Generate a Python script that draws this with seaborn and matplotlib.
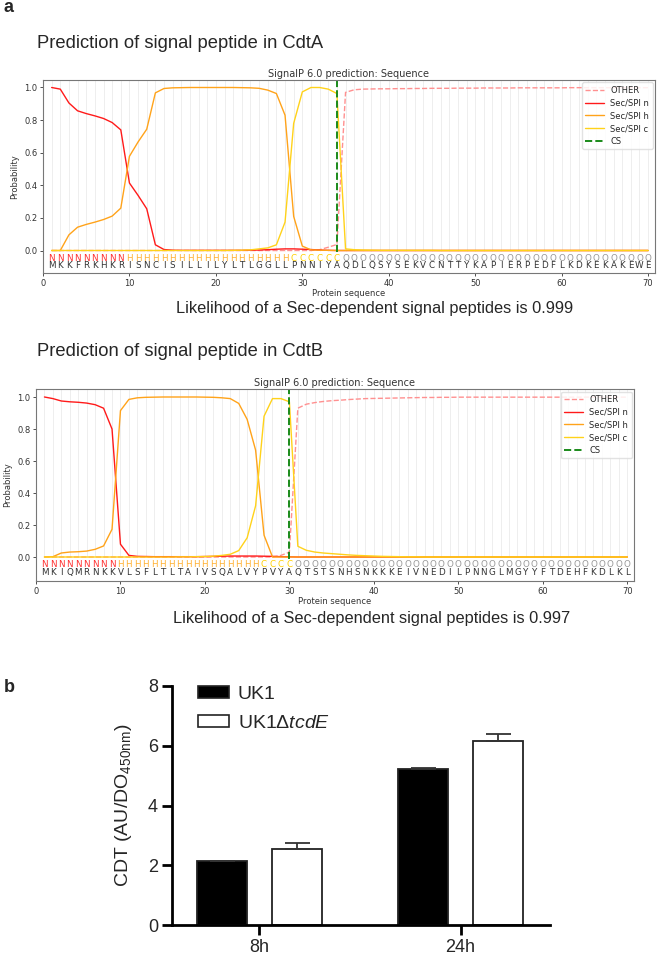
import numpy as np
import pandas as pd
import seaborn as sns
import matplotlib.pyplot as plt
import matplotlib.patches as mpatches

# ---- panel a: SignalP 6.0 output, CdtA and CdtB (positions 1..70)
cdta_seq = "MKKFRKHKRISNCISILLILYLTLGGLLPNNIYAQDLQSYSEKVCNTTYKAPIERPEDFLKDKEKAKEWE"
cdta_lab = "NNNNNNNNNHHHHHHHHHHHHHHHHHHHCCCCCCOOOOOOOOOOOOOOOOOOOOOOOOOOOOOOOOOOOO"
cdta_cs = 34
cdta_likelihood = "0.999"
cdta_other = [0, 0, 0, 0, 0, 0, 0, 0, 0, 0,
              0, 0, 0, 0, 0, 0, 0, 0, 0, 0,
              0, 0, 0, 0, 0, 0, 0, 0, 0, 0,
              0, 0.005, 0.02, 0.037, 0.97, 0.986, 0.99, 0.991, 0.992, 0.992,
              0.993, 0.993, 0.994, 0.994, 0.995, 0.995, 0.995, 0.996, 0.996, 0.996,
              0.997, 0.997, 0.997, 0.997, 0.998, 0.998, 0.998, 0.998, 0.998, 0.998,
              0.999, 0.999, 0.999, 0.999, 0.999, 0.999, 0.999, 0.999, 0.999, 0.999]
cdta_n = [1.0, 0.99, 0.905, 0.857, 0.84, 0.826, 0.81, 0.785, 0.74, 0.414,
          0.338, 0.256, 0.035, 0.006, 0.002, 0.001, 0.001, 0.001, 0.001, 0.001,
          0.001, 0.001, 0.001, 0.002, 0.003, 0.005, 0.008, 0.01, 0.01, 0.008,
          0.006, 0.003, 0.001, 0, 0, 0, 0, 0, 0, 0,
          0, 0, 0, 0, 0, 0, 0, 0, 0, 0,
          0, 0, 0, 0, 0, 0, 0, 0, 0, 0,
          0, 0, 0, 0, 0, 0, 0, 0, 0, 0]
cdta_h = [0, 0, 0.096, 0.143, 0.16, 0.174, 0.19, 0.211, 0.26, 0.578,
          0.666, 0.744, 0.967, 0.994, 0.998, 0.999, 1.0, 1.0, 1.0, 1.0,
          1.0, 1.0, 0.999, 0.998, 0.995, 0.984, 0.963, 0.83, 0.209, 0.027,
          0.004, 0.002, 0.001, 0, 0, 0, 0, 0, 0, 0,
          0, 0, 0, 0, 0, 0, 0, 0, 0, 0,
          0, 0, 0, 0, 0, 0, 0, 0, 0, 0,
          0, 0, 0, 0, 0, 0, 0, 0, 0, 0]
cdta_c = [0, 0, 0, 0, 0, 0, 0, 0, 0, 0,
          0, 0, 0, 0, 0, 0, 0, 0, 0, 0,
          0, 0.001, 0.002, 0.004, 0.01, 0.016, 0.035, 0.174, 0.78, 0.973,
          1.0, 1.0, 0.99, 0.963, 0.01, 0.005, 0.003, 0.002, 0.001, 0.001,
          0.001, 0.001, 0.001, 0.001, 0.001, 0, 0, 0, 0, 0,
          0, 0, 0, 0, 0, 0, 0, 0, 0, 0,
          0, 0, 0, 0, 0, 0, 0, 0, 0, 0]

cdtb_seq = "MKIQMRNKKVLSFLTLTAIVSQALVYPVYAQTSTSNHSNKKKEIVNEDILPNNGLMGYYFTDEHFKDLKL"
cdtb_lab = "NNNNNNNNNHHHHHHHHHHHHHHHHHCCCCOOOOOOOOOOOOOOOOOOOOOOOOOOOOOOOOOOOOOOOO"
cdtb_cs = 30
cdtb_likelihood = "0.997"
cdtb_other = [0, 0, 0, 0, 0, 0, 0, 0, 0, 0,
              0, 0, 0, 0, 0, 0, 0, 0, 0, 0,
              0, 0, 0, 0, 0, 0, 0, 0, 0.01, 0.03,
              0.93, 0.955, 0.965, 0.972, 0.977, 0.98, 0.984, 0.987, 0.99, 0.991,
              0.992, 0.993, 0.994, 0.995, 0.996, 0.997, 0.997, 0.998, 0.998, 0.999,
              0.999, 0.999, 0.999, 0.999, 0.999, 0.999, 0.999, 0.999, 0.999, 0.999,
              0.999, 0.999, 0.999, 0.999, 0.999, 0.999, 0.999, 0.999, 0.999, 0.999]
cdtb_n = [1.0, 0.99, 0.975, 0.97, 0.967, 0.962, 0.952, 0.93, 0.80, 0.08,
          0.01, 0.004, 0.003, 0.002, 0.002, 0.002, 0.002, 0.002, 0.002, 0.003,
          0.004, 0.005, 0.006, 0.006, 0.006, 0.006, 0.005, 0.004, 0.002, 0.001,
          0, 0, 0, 0, 0, 0, 0, 0, 0, 0,
          0, 0, 0, 0, 0, 0, 0, 0, 0, 0,
          0, 0, 0, 0, 0, 0, 0, 0, 0, 0,
          0, 0, 0, 0, 0, 0, 0, 0, 0, 0]
cdtb_h = [0, 0.002, 0.025, 0.031, 0.033, 0.037, 0.048, 0.069, 0.173, 0.915,
          0.985, 0.995, 0.998, 0.999, 1.0, 1.0, 1.0, 1.0, 1.0, 0.999,
          0.998, 0.995, 0.99, 0.96, 0.86, 0.668, 0.136, 0, 0, 0,
          0, 0, 0, 0, 0, 0, 0, 0, 0, 0,
          0, 0, 0, 0, 0, 0, 0, 0, 0, 0,
          0, 0, 0, 0, 0, 0, 0, 0, 0, 0,
          0, 0, 0, 0, 0, 0, 0, 0, 0, 0]
cdtb_c = [0, 0, 0, 0, 0, 0, 0, 0, 0, 0,
          0, 0, 0, 0, 0, 0, 0.001, 0.001, 0.002, 0.003,
          0.005, 0.01, 0.017, 0.04, 0.12, 0.32, 0.88, 0.99, 0.99, 0.97,
          0.067, 0.042, 0.031, 0.025, 0.021, 0.017, 0.013, 0.01, 0.008, 0.006,
          0.004, 0.003, 0.002, 0.001, 0.001, 0, 0, 0, 0, 0,
          0, 0, 0, 0, 0, 0, 0, 0, 0, 0,
          0, 0, 0, 0, 0, 0, 0, 0, 0, 0]

# ---- panel b: CDT production
times = ['8h', '24h']
uk1_cdt = [2.15, 5.21]
uk1_err = [0.0, 0.03]
tcde_cdt = [2.54, 6.17]
tcde_err = [0.22, 0.21]

sns.set_theme(style="white")
plt.rcParams['font.family'] = ['DejaVu Sans']
plt.rcParams['mathtext.fontset'] = 'custom'
plt.rcParams['mathtext.default'] = 'regular'
plt.rcParams['mathtext.rm'] = 'Liberation Sans'
plt.rcParams['mathtext.it'] = 'Liberation Sans:italic'
ARIAL = ['Liberation Sans', 'DejaVu Sans']

label_colors = {'N': '#ff3030', 'H': '#ffb030', 'C': '#ffd000', 'O': '#999999'}


def signalp_axes(ax, seq, lab, other, n, h, c, cs, ylim, row_y):
    pos = np.arange(1, len(seq) + 1)
    ax.vlines(pos, 0, ylim[1], color='#ebebeb', lw=0.6, zorder=0)
    sns.lineplot(x=pos, y=other, color='#ff9090', linestyle='--', lw=1.0, label='OTHER', ax=ax)
    sns.lineplot(x=pos, y=n, color='#ff1a1a', lw=1.0, label='Sec/SPI n', ax=ax)
    sns.lineplot(x=pos, y=h, color='#ffa31a', lw=1.0, label='Sec/SPI h', ax=ax)
    sns.lineplot(x=pos, y=c, color='#ffd21a', lw=1.0, label='Sec/SPI c', ax=ax)
    y0 = (0 - ylim[0]) / (ylim[1] - ylim[0])
    ax.axvline(cs, ymin=y0 - 0.01, ymax=1, color='#1a8a1a', ls='--', lw=1.4, label='CS')
    for p, l, aa in zip(pos, lab, seq):
        ax.text(p, row_y[0], l, ha='center', va='center', fontsize=6.3, color=label_colors[l])
        ax.text(p, row_y[1], aa, ha='center', va='center', fontsize=6.3, color='#333333')
    ax.set_xlim(0, 70.8)
    ax.set_ylim(*ylim)
    ax.set_xticks(range(0, 71, 10))
    ax.set_yticks([0, 0.2, 0.4, 0.6, 0.8, 1.0])
    ax.set_yticklabels(['0.0', '0.2', '0.4', '0.6', '0.8', '1.0'])
    ax.tick_params(labelsize=6, length=2.5, width=0.6, pad=1.5, colors='#333333', left=True, bottom=True)
    for s in ax.spines.values():
        s.set_color('#777777')
        s.set_linewidth(0.8)
    ax.set_title('SignalP 6.0 prediction: Sequence', fontsize=7, pad=2.5, color='#333333')
    ax.set_xlabel('Protein sequence', fontsize=6, labelpad=1, color='#333333')
    ax.set_ylabel('Probability', fontsize=6, labelpad=4, color='#333333')
    ax.legend(loc='upper right', fontsize=6, framealpha=0.85, borderaxespad=0.3,
              handlelength=2.2, labelspacing=0.45, edgecolor='#dddddd')


fig = plt.figure(figsize=(6.58, 9.55), dpi=100)
H = 955.0
W = 658.0

ax_a = fig.add_axes([43 / W, 1 - 273 / H, 612 / W, 193 / H])
signalp_axes(ax_a, cdta_seq, cdta_lab, cdta_other, cdta_n, cdta_h, cdta_c, cdta_cs,
             (-0.138, 1.046), (-0.048, -0.092))
ax_b = fig.add_axes([36 / W, 1 - 581 / H, 598 / W, 192 / H])
signalp_axes(ax_b, cdtb_seq, cdtb_lab, cdtb_other, cdtb_n, cdtb_h, cdtb_c, cdtb_cs,
             (-0.15, 1.05), (-0.044, -0.096))

fig.text(3 / W, 1 - 8 / H, 'a', fontsize=13, weight='bold', va='center', family=ARIAL)
fig.text(37 / W, 1 - 43 / H, 'Prediction of signal peptide in CdtA', fontsize=13.2, va='center', family=ARIAL)
fig.text(176 / W, 1 - 308 / H, 'Likelihood of a Sec-dependent signal peptides is ' + cdta_likelihood,
         fontsize=11.8, va='center', family=ARIAL)
fig.text(37 / W, 1 - 351 / H, 'Prediction of signal peptide in CdtB', fontsize=13.2, va='center', family=ARIAL)
fig.text(173 / W, 1 - 618 / H, 'Likelihood of a Sec-dependent signal peptides is ' + cdtb_likelihood,
         fontsize=11.8, va='center', family=ARIAL)
fig.text(4 / W, 1 - 687 / H, 'b', fontsize=13, weight='bold', va='center', family=ARIAL)

# ---- bar chart
strains = ['UK1', 'UK1ΔtcdE']
df = pd.DataFrame({'time': times + times,
                   'strain': [strains[0]] * 2 + [strains[1]] * 2,
                   'cdt': uk1_cdt + tcde_cdt,
                   'err': uk1_err + tcde_err})
ax = fig.add_axes([172 / W, 1 - 925 / H, 378 / W, 239 / H])
sns.barplot(data=df, x='time', y='cdt', hue='strain', palette=['black', 'white'],
            width=0.75, gap=0.333, errorbar=None, edgecolor='#222222', linewidth=1.3,
            legend=False, ax=ax)
for bar, (_, row) in zip(ax.patches, df.iterrows()):
    xc = bar.get_x() + bar.get_width() / 2
    ax.errorbar(xc, row['cdt'], yerr=[[0], [row['err']]], color='#333333',
                elinewidth=1.3, capsize=9, capthick=1.3, zorder=1)
ax.set_xlim(-0.435, 1.445)
ax.set_ylim(0, 8)
ax.set_yticks([0, 2, 4, 6, 8])
sns.despine(ax=ax)
for s in ['left', 'bottom']:
    ax.spines[s].set_linewidth(2)
    ax.spines[s].set_color('black')
ax.tick_params(axis='both', length=7, width=2, labelsize=13, color='black', left=True, bottom=True, pad=3)
for t in ax.get_xticklabels() + ax.get_yticklabels():
    t.set_fontfamily(ARIAL)
ax.set_xlabel('')
ax.set_ylabel('CDT (AU/DO$_{450nm}$)', fontsize=14, family=ARIAL, labelpad=10)
handles = [mpatches.Patch(facecolor='black', edgecolor='#222222', lw=1.2, label='UK1'),
           mpatches.Patch(facecolor='white', edgecolor='#222222', lw=1.2, label=r'UK1$\mathit{\Delta tcdE}$')]
ax.legend(handles=handles, loc='upper left', bbox_to_anchor=(0.068, 1.0), frameon=False,
          prop={'family': ARIAL, 'size': 14}, handlelength=1.6, handleheight=0.55,
          handletextpad=0.45, labelspacing=0.6, borderpad=0, borderaxespad=0)

fig.savefig('out.png', dpi=100)
